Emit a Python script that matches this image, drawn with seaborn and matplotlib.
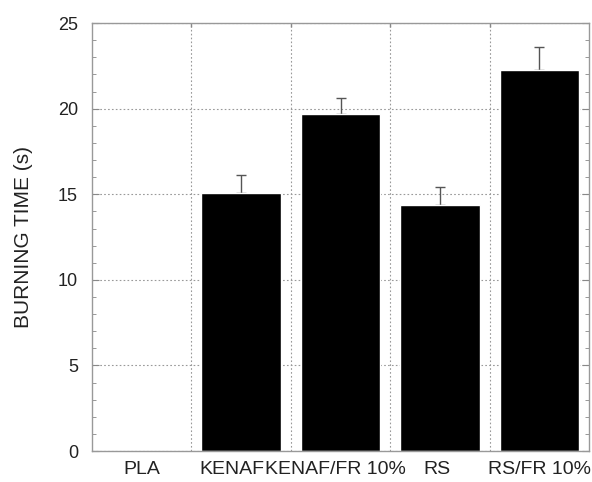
import matplotlib
matplotlib.use("Agg")
import matplotlib.pyplot as plt
import matplotlib.transforms as mtransforms
import seaborn as sns
import pandas as pd
import numpy as np
from matplotlib.ticker import MultipleLocator, FixedLocator

categories = ["PLA", "KENAF", "KENAF/FR 10%", "RS", "RS/FR 10%"]
burning_time = [0.0, 15.1, 19.7, 14.35, 22.25]
error_up = [0.0, 1.0, 0.95, 1.05, 1.35]

sns.set_theme(style="white")
plt.rcParams['font.family'] = ['Liberation Sans', 'DejaVu Sans']

df = pd.DataFrame({"cat": categories, "t": burning_time})

fig = plt.figure(figsize=(5.92, 4.82), dpi=100)
ax = fig.add_axes([0.1554, 0.0643, 0.8396, 0.8877])

sns.barplot(data=df, x="cat", y="t", color="black", width=0.8,
            saturation=1, ax=ax, errorbar=None, zorder=2)
xs = np.arange(len(categories))
mask = np.array(burning_time) > 0
bt = np.array(burning_time)[mask]
eu = np.array(error_up)[mask]
ax.errorbar(xs[mask], bt + eu / 2, yerr=eu / 2,
            fmt="none", ecolor="#555555", elinewidth=1.0, capsize=3.5,
            capthick=1.0, zorder=1.5)

ax.set_ylim(0, 25)
ax.set_xlim(-0.5, len(categories) - 0.5)
ax.yaxis.set_major_locator(MultipleLocator(5))
ax.yaxis.set_minor_locator(MultipleLocator(1))
ax.xaxis.set_minor_locator(FixedLocator([0.5, 1.5, 2.5, 3.5]))

ax.grid(False)
ax.yaxis.grid(True, which="major", linestyle=(0, (1.5, 2)), color="#999999", linewidth=0.8)
ax.xaxis.grid(True, which="minor", linestyle=(0, (1.5, 2)), color="#999999", linewidth=0.8)
ax.set_axisbelow(True)

ax.tick_params(axis="y", which="both", direction="in", left=True, right=True,
               labelsize=13, colors="#888888", labelcolor="#222222", pad=10)
ax.tick_params(axis="y", which="major", length=5, width=0.8)
ax.tick_params(axis="y", which="minor", length=3, width=0.6)
ax.tick_params(axis="x", which="major", length=0, labelsize=14, pad=7, labelcolor="#222222")
ax.tick_params(axis="x", which="minor", length=3, direction="in", top=True, bottom=False, colors="#888888")

# small horizontal nudges of tick labels, as in the reference
shifts = {"KENAF": -9, "KENAF/FR 10%": -5, "RS": -3}
for lbl in ax.get_xticklabels():
    dx = shifts.get(lbl.get_text(), 0)
    if dx:
        lbl.set_transform(lbl.get_transform() +
                          mtransforms.ScaledTranslation(dx / 100, 0, fig.dpi_scale_trans))

for s in ax.spines.values():
    s.set_color("#999999")
    s.set_linewidth(1.0)

ax.set_xlabel("")
ax.set_ylabel("BURNING TIME (s)", fontsize=15, labelpad=18, color="#222222")

fig.savefig("out.png", dpi=100)
